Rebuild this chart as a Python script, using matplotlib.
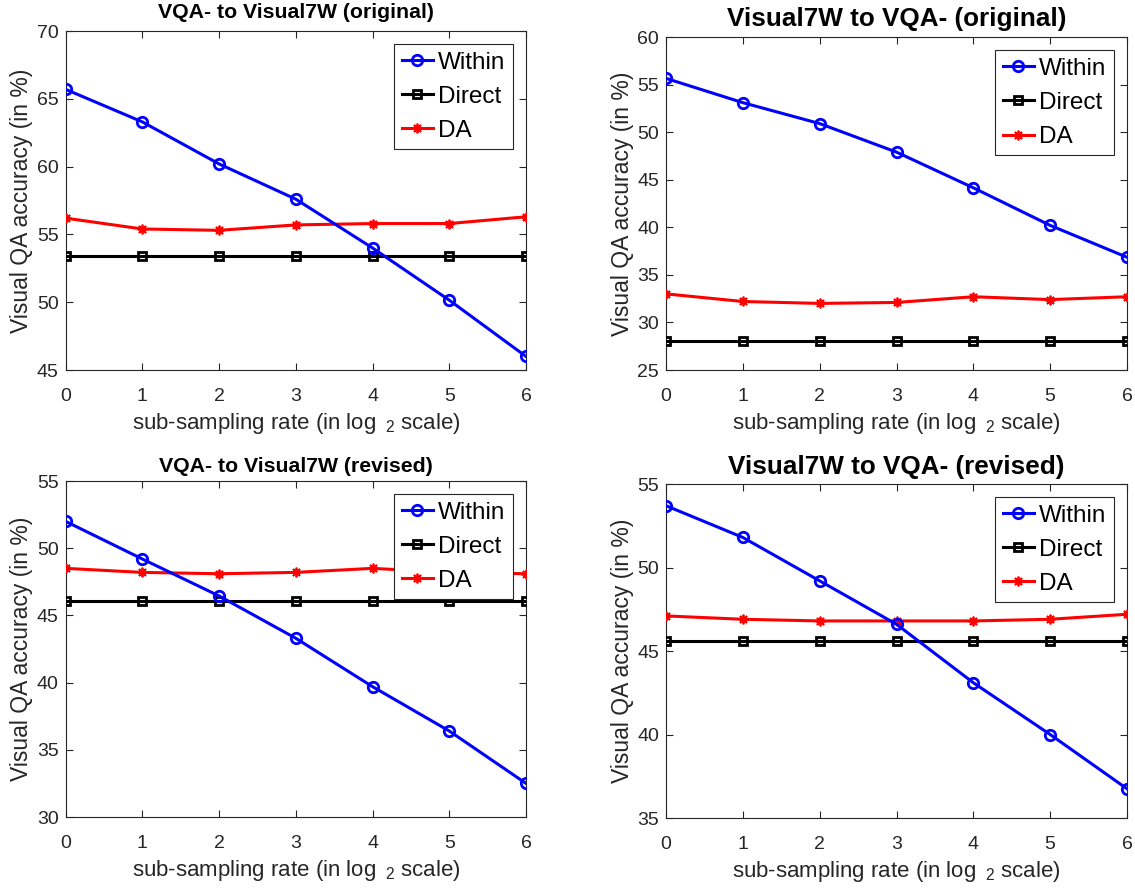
import matplotlib
matplotlib.use("Agg")
import matplotlib.pyplot as plt
import numpy as np

plt.rcParams['font.family'] = ['Liberation Sans', 'DejaVu Sans']
plt.rcParams['mathtext.fontset'] = 'custom'
plt.rcParams['mathtext.rm'] = 'Liberation Sans'
plt.rcParams['mathtext.it'] = 'Liberation Sans'

# ---- data ----
x_rate = [0, 1, 2, 3, 4, 5, 6]

titles = ["VQA- to Visual7W (original)", "Visual7W to VQA- (original)",
          "VQA- to Visual7W (revised)", "Visual7W to VQA- (revised)"]

within_tl = [65.7, 63.3, 60.2, 57.6, 54.0, 50.15, 46.0]
direct_tl = [53.4] * 7
da_tl = [56.2, 55.4, 55.3, 55.7, 55.8, 55.8, 56.3]

within_tr = [55.65, 53.1, 50.9, 47.9, 44.15, 40.2, 36.85]
direct_tr = [28.1] * 7
da_tr = [33.0, 32.2, 32.0, 32.1, 32.7, 32.4, 32.7]

within_bl = [52.0, 49.2, 46.45, 43.3, 39.7, 36.4, 32.5]
direct_bl = [46.1] * 7
da_bl = [48.5, 48.2, 48.1, 48.2, 48.5, 48.2, 48.1]

within_br = [53.7, 51.8, 49.2, 46.6, 43.1, 40.0, 36.75]
direct_br = [45.6] * 7
da_br = [47.1, 46.9, 46.8, 46.8, 46.8, 46.9, 47.2]

ylims = [(45, 70), (25, 60), (30, 55), (35, 55)]
series = [(within_tl, direct_tl, da_tl), (within_tr, direct_tr, da_tr),
          (within_bl, direct_bl, da_bl), (within_br, direct_br, da_br)]

xlabel = r"sub-sampling rate (in log $\,_2$ scale)"
ylabel = "Visual QA accuracy (in %)"

# ---- layout (pixels) ----
W, H = 1135, 888
fig = plt.figure(figsize=(W / 100, H / 100), dpi=100)

# left, right, top, bottom in pixel coords (top-origin)
boxes = [(65.5, 526, 31, 370), (666, 1127, 37, 370),
         (65.5, 526, 481, 817), (666, 1127, 484, 818)]
title_base = [18, 26, 472, 474]
title_size = [15.3, 18.8, 15.3, 18.8]

tick_col = '#262626'
asterisk = (8, 2, 0)

for i in range(4):
    l, r, t, b = boxes[i]
    ax = fig.add_axes([l / W, 1 - b / H, (r - l) / W, (b - t) / H])
    w, d, a = series[i]
    ax.plot(x_rate, w, color='blue', lw=2.2, marker='o', ms=7.5,
            mfc='none', mew=2, label='Within', zorder=4)
    ax.plot(x_rate, d, color='black', lw=2.2, marker='s', ms=5.5,
            mfc='none', mew=2, label='Direct', zorder=3)
    ax.plot(x_rate, a, color='red', lw=2.2, marker=asterisk, ms=7,
            mew=1.3, label='DA', zorder=3)
    ax.set_xlim(0, 6)
    ax.set_ylim(*ylims[i])
    ax.set_xticks(x_rate)
    lo, hi = ylims[i]
    ax.set_yticks(np.arange(lo, hi + 0.1, 5))
    ax.tick_params(direction='in', top=True, right=True, length=5, width=0.8,
                   colors=tick_col, labelsize=14, pad=13)
    ax.tick_params(axis='y', pad=5)
    for sp in ax.spines.values():
        sp.set_color(tick_col)
        sp.set_linewidth(0.8)
    ax.set_xlabel(xlabel, fontsize=16, color=tick_col, va='center')
    ax.set_ylabel(ylabel, fontsize=16.5, color=tick_col, va='center')
    ax.xaxis.set_label_coords(0.5, -53.0 / (b - t))
    ax.yaxis.set_label_coords(-44.0 / (r - l), 0.5)
    cx = (l + r) / 2
    fig.text(cx / W, 1 - title_base[i] / H, titles[i], ha='center', va='baseline',
             fontsize=title_size[i], fontweight='bold', color='black')
    leg = ax.legend(loc='upper right', fontsize=17.5, handlelength=1.3,
                    handletextpad=0.2, labelspacing=0.5, borderpad=0.3,
                    borderaxespad=0.55, fancybox=False, framealpha=1,
                    edgecolor=tick_col)
    leg.get_frame().set_linewidth(0.8)

fig.savefig("out.png", dpi=100)
